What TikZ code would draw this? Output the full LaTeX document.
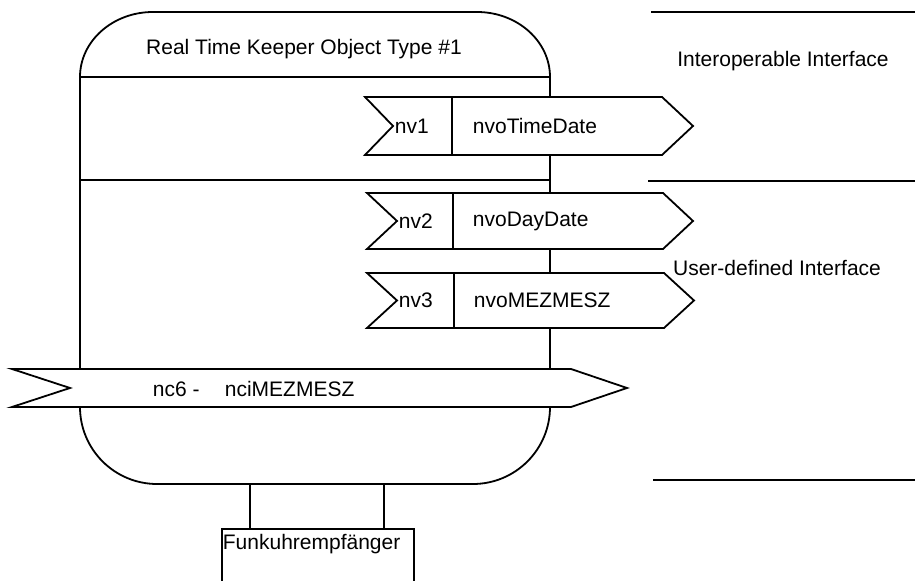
\documentclass[tikz,border=0pt]{standalone}
\usepackage{fontspec}
\setmainfont{Liberation Sans}
\begin{document}
\begin{tikzpicture}[x=0.5pt,y=-0.5pt,
  line width=0.9pt, line join=miter,
  every node/.style={font=\fontsize{10.5}{12.6}\selectfont, inner sep=0pt},
  flag/.style={draw, fill=white},
  lbl/.style={anchor=west}]
\useasboundingbox (0,0) rectangle (915,581);
\clip (0,0) rectangle (915,581);

% object outline with rounded corners
\draw (80,77) .. controls (80,41.1) and (112.7,12) .. (153,12)
  -- (477,12) .. controls (517.3,12) and (550,41.1) .. (550,77)
  -- (550,407) .. controls (550,449.5) and (515.5,484) .. (473,484)
  -- (157,484) .. controls (114.5,484) and (80,449.5) .. (80,407) -- cycle;
\draw (80,77) -- (550,77);
\draw (80,180) -- (550,180);
\node (title) at (304,49) {Real Time Keeper Object Type \#1};

% interface section rules and labels
\draw (651,12) -- (915,12);
\draw (648,181) -- (915,181);
\draw (653,480) -- (915,480);
\node (interop) at (783,61) {Interoperable Interface};
\node (userdef) at (777,268) {User-defined Interface};

% network variable flags
\draw[flag] (365,97) -- (662,97) -- (693,126) -- (662,155) -- (365,155) -- (393,126) -- cycle;
\draw (452,97) -- (452,155);
\node[lbl] (nv1) at (394,126) {nv1};
\node[lbl] (nvo1) at (472,126) {nvoTimeDate};

\draw[flag] (367,193) -- (663,193) -- (693,221) -- (663,249) -- (367,249) -- (397,221) -- cycle;
\draw (453,193) -- (453,249);
\node[lbl] (nv2) at (398,221) {nv2};
\node[lbl] (nvo2) at (472,221) {nvoDayDate};

\draw[flag] (367,273) -- (664,273) -- (694,300.5) -- (664,328) -- (367,328) -- (397,300.5) -- cycle;
\draw (454,273) -- (454,328);
\node[lbl] (nv3) at (398,300.5) {nv3};
\node[lbl] (nvo3) at (473,300.5) {nvoMEZMESZ};

% configuration property flag
\draw[flag] (12,369) -- (571,369) -- (627,388) -- (571,407) -- (12,407) -- (70,388) -- cycle;
\node[lbl] (nc6) at (152,389) {nc6 -};
\node[lbl] (nci) at (224,389) {nciMEZMESZ};

% receiver block and its links
\node (rx) [draw, anchor=north west, minimum width=96pt, minimum height=40pt] at (221,528) {};
\node[anchor=north west] (rxl) at (222,533) {Funkuhrempfänger};
\coordinate (ob1) at (250,484);
\coordinate (ob2) at (384,484);
\draw (ob1) -- (ob1 |- rx.north);
\draw (ob2) -- (ob2 |- rx.north);
\end{tikzpicture}
\end{document}
